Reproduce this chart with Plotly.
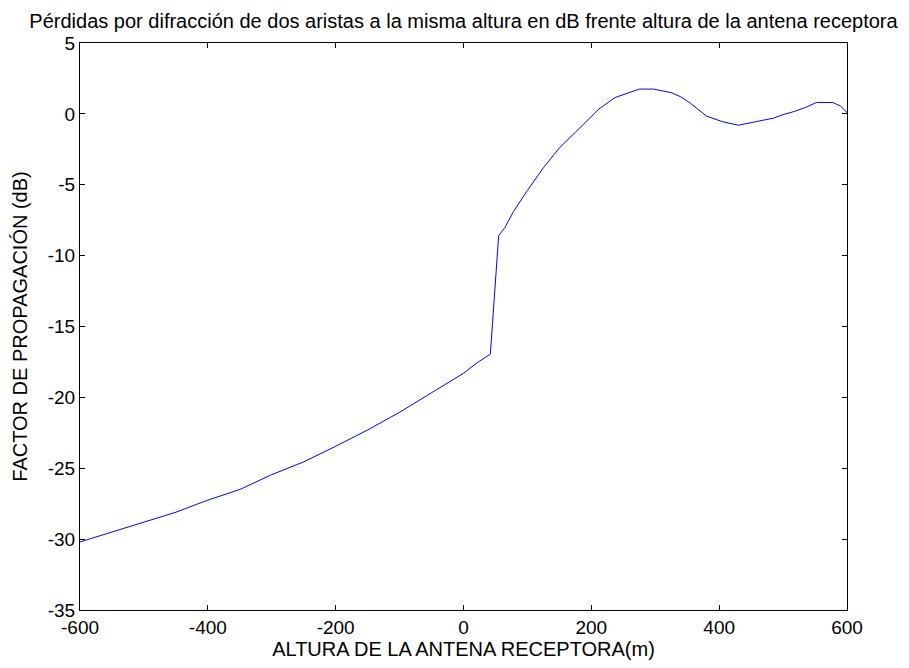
import plotly.graph_objects as go

altura_m = [-600, -550, -500, -450, -400, -350, -300, -250, -200, -150, -100, -50,
            0, 20, 42, 55, 65, 78, 100, 125, 150, 175, 200, 212, 237, 260, 275,
            297, 325, 340, 355, 380, 405, 430, 460, 485, 500, 516, 535, 552,
            578, 590, 600]
factor_db = [-30.2, -29.5, -28.85, -28.1, -27.25, -26.5, -25.45, -24.55, -23.45,
             -22.3, -21.05, -19.65, -18.3, -17.6, -16.95, -8.6, -8.0, -6.9, -5.4,
             -3.8, -2.4, -1.3, -0.2, 0.35, 1.15, 1.5, 1.75, 1.75, 1.5, 1.2, 0.75,
             -0.15, -0.55, -0.8, -0.55, -0.3, -0.05, 0.15, 0.45, 0.8, 0.8, 0.55, 0.1]

x_ticks = [-600, -400, -200, 0, 200, 400, 600]
y_ticks = [5, 0, -5, -10, -15, -20, -25, -30, -35]

FONT = "Liberation Sans, Arial, sans-serif"
W, H = 901, 660  # page body adds an 8px offset

fig = go.Figure()
fig.add_trace(go.Scatter(x=altura_m, y=factor_db, mode="lines",
                         line=dict(color="rgb(0,0,255)", width=1),
                         showlegend=False))

axis_common = dict(showline=True, linecolor="black", linewidth=1, mirror="ticks",
                   ticks="inside", ticklen=5, tickcolor="black", showgrid=False,
                   zeroline=False, tickfont=dict(family=FONT, size=19, color="black"))

fig.update_layout(
    width=W, height=H,
    margin=dict(l=72, r=62, t=35, b=58),
    paper_bgcolor="white", plot_bgcolor="white",
    title=dict(text="Pérdidas por difracción de dos aristas a la misma altura en dB frente altura de la antena receptora",
               x=0.5, xref="paper", y=1 - 13 / H, yref="container",
               xanchor="center", yanchor="middle",
               font=dict(family=FONT, size=20, color="black")),
    xaxis=dict(range=[-600, 600], tickvals=x_ticks, ticktext=[str(v) for v in x_ticks],
               title=dict(text="ALTURA DE LA ANTENA RECEPTORA(m)", standoff=2,
                          font=dict(family=FONT, size=20, color="black")),
               **axis_common),
    yaxis=dict(range=[-35, 5], tickvals=y_ticks, ticktext=[str(v) for v in y_ticks],
               title=dict(text="FACTOR DE PROPAGACIÓN (dB)", standoff=14,
                          font=dict(family=FONT, size=20, color="black")),
               **axis_common),
)

fig.write_html("out.html")
